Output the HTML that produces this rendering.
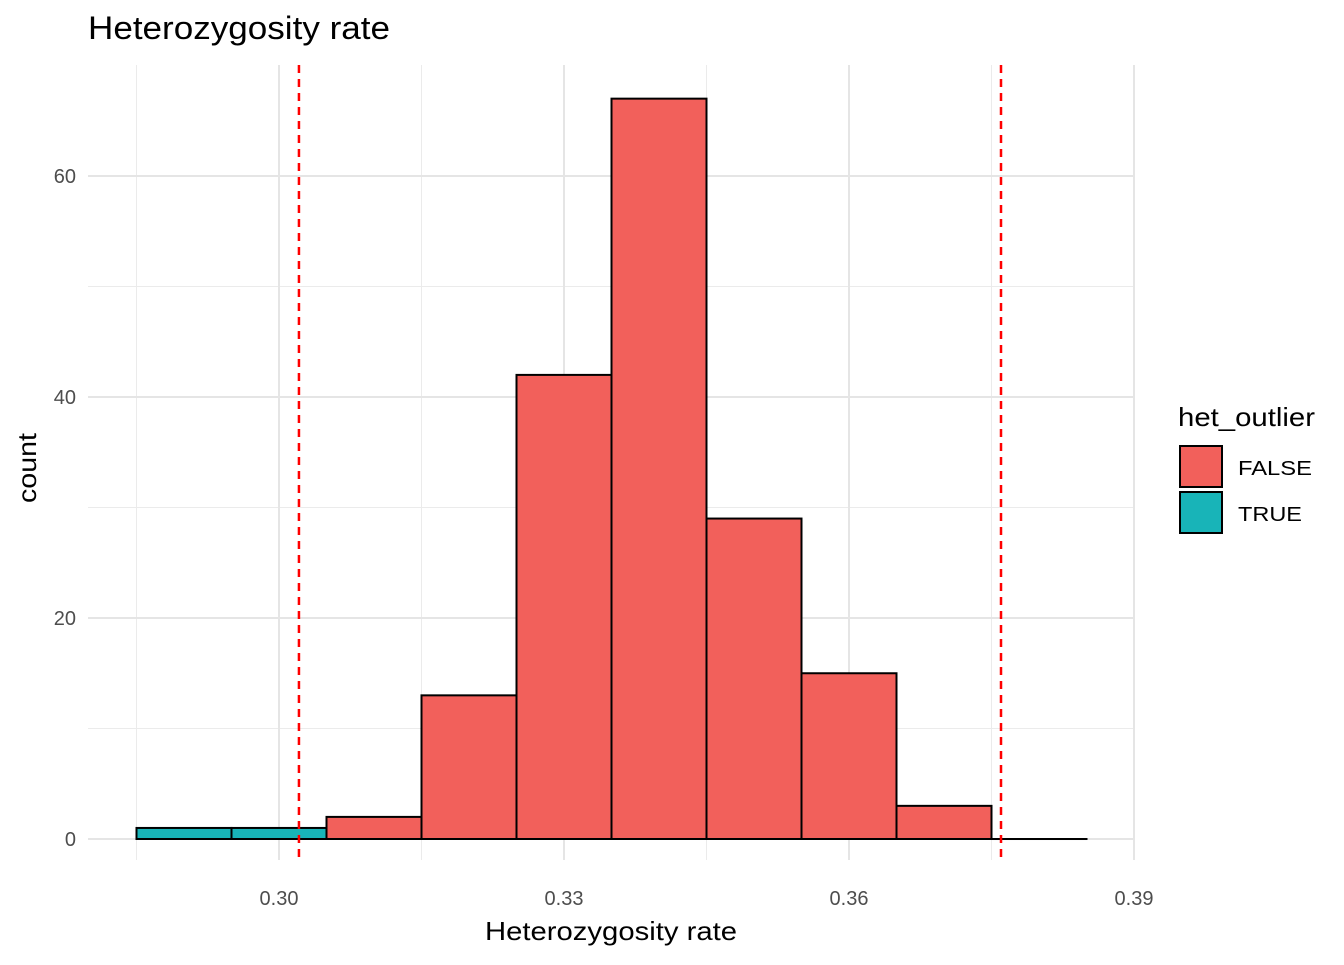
<!DOCTYPE html>
<html><head><meta charset="utf-8"><style>
body{margin:0;background:#fff;}
svg text{font-family:"Liberation Sans",Arial,sans-serif;}
</style></head><body>
<svg id="chart" width="1344" height="960" xmlns="http://www.w3.org/2000/svg">
<rect width="1344" height="960" fill="#fff"/>
<g id="grid"></g>
<g id="bars"></g>
<g id="vlines"></g>
<g id="axes"></g>
<text x="88" y="39" font-size="32" textLength="302" lengthAdjust="spacingAndGlyphs" fill="#000">Heterozygosity rate</text>
<text x="485" y="940" font-size="26" textLength="252" lengthAdjust="spacingAndGlyphs" fill="#000">Heterozygosity rate</text>
<text transform="translate(36,468) rotate(-90)" x="-35" font-size="26" textLength="70" lengthAdjust="spacingAndGlyphs" fill="#000">count</text>
<g>
<text x="1178" y="426" font-size="26" textLength="137" lengthAdjust="spacingAndGlyphs" fill="#000">het_outlier</text>
<rect x="1180" y="446" width="42" height="41" fill="#F2605B" stroke="#000" stroke-width="2"/>
<text x="1238" y="475" font-size="20" textLength="74" lengthAdjust="spacingAndGlyphs" fill="#000">FALSE</text>
<rect x="1180" y="492" width="42" height="41" fill="#18B4B8" stroke="#000" stroke-width="2"/>
<text x="1238" y="521" font-size="20" textLength="64" lengthAdjust="spacingAndGlyphs" fill="#000">TRUE</text>
</g>
</svg>
<script>
const binStarts=[0.285,0.295,0.305,0.315,0.325,0.335,0.345,0.355,0.365,0.375];
const counts=[1,1,2,13,42,67,29,15,3,0];
const outlier=[true,true,false,false,false,false,false,false,false,false];
const binWidth=0.01;
const thresholds=[0.3021,0.3760];
const xTicks=[0.30,0.33,0.36,0.39];
const xTickLabels=["0.30","0.33","0.36","0.39"];
const xMinor=[0.285,0.315,0.345,0.375];
const yTicks=[0,20,40,60];
const yMinor=[10,30,50];
const X=v=>279+(v-0.30)*9500;
const Y=v=>839-v*11.05;
const NS="http://www.w3.org/2000/svg";
function mk(p,t,a){const e=document.createElementNS(NS,t);for(const k in a)e.setAttribute(k,a[k]);p.appendChild(e);return e;}
const grid=document.getElementById('grid'),bars=document.getElementById('bars'),vl=document.getElementById('vlines'),ax=document.getElementById('axes');
const L=88,R=1133,T=65,B=860;
xMinor.forEach(v=>{const e=mk(grid,'line',{x1:X(v),x2:X(v),y1:T,y2:B,stroke:'#ebebeb','stroke-width':1});

});
yMinor.forEach(v=>{const e=mk(grid,'line',{x1:L,x2:R,y1:Y(v),y2:Y(v),stroke:'#ebebeb','stroke-width':1});

});
xTicks.forEach((v,i)=>{const e=mk(grid,'line',{x1:X(v),x2:X(v),y1:T,y2:B,stroke:'#e5e5e5','stroke-width':2});


const t=mk(ax,'text',{x:X(v),y:905,'font-size':20,'text-anchor':'middle',fill:'#4d4d4d'});t.textContent=xTickLabels[i];

});
yTicks.forEach(v=>{const e=mk(grid,'line',{x1:L,x2:R,y1:Y(v),y2:Y(v),stroke:'#e5e5e5','stroke-width':2});


const t=mk(ax,'text',{x:76,y:Y(v)+7,'font-size':20,'text-anchor':'end',fill:'#4d4d4d'});t.textContent=v;

});
binStarts.forEach((s,i)=>{const x1=X(s),x2=X(s+binWidth),y=Y(counts[i]);
const r=mk(bars,'rect',{x:x1,y:y,width:x2-x1,height:Math.max(Y(0)-y,0.01),fill:outlier[i]?'#18B4B8':'#F2605B',stroke:'#000','stroke-width':2});

});
thresholds.forEach(v=>{const e=mk(vl,'line',{x1:X(v),x2:X(v),y1:T,y2:B,stroke:'#ff0000','stroke-width':2.5,'stroke-dasharray':'8,6'});

});
</script>
</body></html>
